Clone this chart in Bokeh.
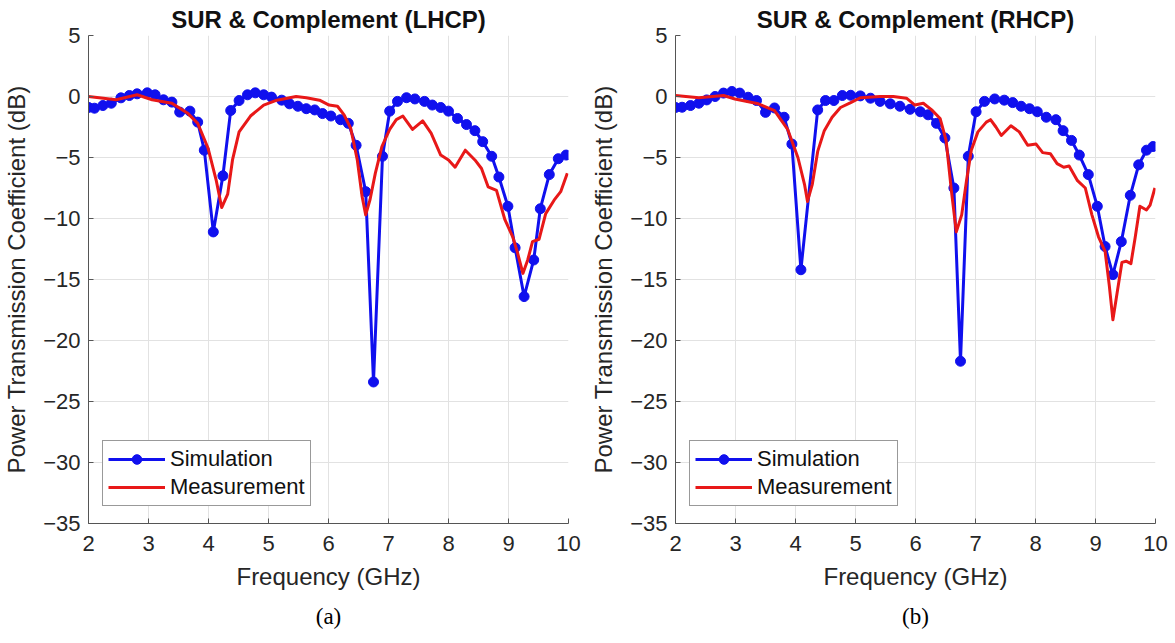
from bokeh.plotting import figure
from bokeh.layouts import row
from bokeh.models import Range1d, FixedTicker, Legend, LegendItem, Title
from bokeh.embed import file_html
from bokeh.resources import INLINE

# ---------------- data ----------------
x_ticks = [2, 3, 4, 5, 6, 7, 8, 9, 10]
y_ticks = [-35, -30, -25, -20, -15, -10, -5, 0, 5]
titles = ["SUR & Complement (LHCP)", "SUR & Complement (RHCP)"]
captions = ["(a)", "(b)"]
series_names = ["Simulation", "Measurement"]
x_label = "Frequency (GHz)"
y_label = "Power Transmission Coefficient (dB)"

# (a) LHCP
lhcp_sim_f = [2.0, 2.1, 2.24, 2.38, 2.54, 2.68, 2.81, 2.98, 3.11, 3.25, 3.39, 3.52, 3.69, 3.82,
              3.93, 4.08, 4.24, 4.37, 4.51, 4.65, 4.78, 4.92, 5.05, 5.22, 5.35, 5.49, 5.63, 5.77,
              5.90, 6.04, 6.2, 6.33, 6.46, 6.62, 6.75, 6.9, 7.02, 7.15, 7.3, 7.44, 7.6, 7.73,
              7.87, 8.0, 8.15, 8.3, 8.44, 8.57, 8.72, 8.84, 8.99, 9.11, 9.26, 9.42, 9.53, 9.68,
              9.83, 9.96]
lhcp_sim_db = [-0.9, -0.96, -0.74, -0.55, -0.11, 0.08, 0.22, 0.3, 0.14, -0.27, -0.46, -1.28, -1.2, -2.1,
               -4.4, -11.1, -6.5, -1.15, -0.33, 0.14, 0.3, 0.14, -0.05, -0.3, -0.6, -0.8, -1.0, -1.1,
               -1.4, -1.6, -1.9, -2.2, -4.0, -7.8, -23.4, -4.9, -1.2, -0.4, -0.1, -0.2, -0.4, -0.7,
               -0.9, -1.2, -1.8, -2.3, -2.8, -3.7, -4.9, -6.6, -9.0, -12.4, -16.4, -13.4, -9.2, -6.4,
               -5.1, -4.8]
lhcp_meas_f = [2.0, 2.46, 2.81, 3.06, 3.39, 3.66, 3.82, 3.99, 4.13, 4.22, 4.32, 4.4, 4.51, 4.7,
               4.92, 5.14, 5.46, 5.63, 5.85, 6.01, 6.15, 6.26, 6.37, 6.48, 6.56, 6.62, 6.69, 6.78,
               6.89, 7.02, 7.13, 7.24, 7.4, 7.57, 7.71, 7.87, 8.0, 8.11, 8.28, 8.44, 8.55, 8.66,
               8.8, 8.94, 9.07, 9.15, 9.24, 9.32, 9.4, 9.51, 9.62, 9.76, 9.87, 9.98]
lhcp_meas_db = [0.0, -0.27, 0.14, -0.27, -0.55, -1.4, -2.2, -4.2, -6.9, -9.1, -8.0, -5.2, -2.9, -1.6,
                -0.7, -0.3, 0.0, -0.1, -0.3, -0.7, -0.8, -1.5, -2.6, -5.2, -8.2, -9.7, -8.5, -6.3,
                -4.1, -2.7, -1.9, -1.6, -2.7, -2.0, -3.0, -4.8, -5.2, -5.8, -4.4, -5.2, -5.9, -7.4,
                -7.7, -10.1, -11.5, -12.8, -14.5, -13.4, -11.9, -11.7, -9.6, -8.5, -7.8, -6.3]

# (b) RHCP
rhcp_sim_f = [2.0, 2.11, 2.25, 2.39, 2.52, 2.66, 2.80, 2.94, 3.07, 3.21, 3.35, 3.5, 3.65, 3.81,
              3.94, 4.09, 4.37, 4.5, 4.64, 4.78, 4.92, 5.08, 5.25, 5.41, 5.58, 5.74, 5.91, 6.08,
              6.21, 6.35, 6.49, 6.64, 6.75, 6.88, 7.01, 7.15, 7.32, 7.48, 7.62, 7.76, 7.9, 8.03,
              8.18, 8.34, 8.46, 8.6, 8.73, 8.88, 9.03, 9.16, 9.29, 9.43, 9.58, 9.72, 9.85, 9.96]
rhcp_sim_db = [-0.9, -0.88, -0.74, -0.55, -0.28, 0.0, 0.28, 0.41, 0.28, -0.06, -0.33, -1.3, -0.94, -1.7,
               -3.9, -14.2, -1.1, -0.33, -0.33, 0.08, 0.1, 0.05, -0.14, -0.4, -0.6, -0.8, -1.05, -1.25,
               -1.5, -2.2, -3.4, -7.5, -21.7, -4.9, -1.25, -0.4, -0.2, -0.3, -0.5, -0.8, -1.0, -1.25,
               -1.7, -1.9, -2.8, -3.6, -4.8, -6.4, -9.0, -12.3, -14.6, -11.9, -8.1, -5.6, -4.4, -4.1]
rhcp_meas_f = [2.0, 2.39, 2.8, 2.99, 3.38, 3.65, 3.87, 4.04, 4.15, 4.2, 4.28, 4.37, 4.48, 4.61,
               4.75, 4.92, 5.08, 5.41, 5.63, 5.85, 5.99, 6.13, 6.27, 6.41, 6.51, 6.6, 6.68, 6.77,
               6.85, 6.93, 7.04, 7.18, 7.25, 7.34, 7.43, 7.59, 7.73, 7.87, 8.01, 8.12, 8.25, 8.36,
               8.47, 8.56, 8.7, 8.83, 8.94, 9.05, 9.16, 9.23, 9.29, 9.36, 9.44, 9.51, 9.59, 9.66,
               9.74, 9.85, 9.91, 9.99]
rhcp_meas_db = [0.08, -0.1, 0.08, -0.2, -0.6, -1.15, -2.7, -5.0, -7.2, -8.6, -7.2, -4.5, -2.8, -1.7,
                -0.9, -0.5, -0.1, 0.0, 0.0, -0.14, -0.7, -0.55, -1.1, -1.8, -3.6, -7.8, -11.1, -9.7,
                -6.9, -4.4, -2.9, -2.1, -1.9, -2.5, -3.2, -2.4, -2.9, -4.0, -3.9, -4.6, -4.7, -5.5,
                -5.8, -5.7, -6.9, -7.5, -9.7, -11.5, -12.7, -15.5, -18.3, -16.1, -13.6, -13.5, -13.7, -11.6,
                -9.0, -9.3, -8.9, -7.5]

BLUE = "#1010ee"
RED = "#e81818"
FONT = "Liberation Sans"


def make_panel(title, caption, sim_f, sim_db, meas_f, meas_db, width, b_left, b_right):
    p = figure(width=width, height=643, x_range=Range1d(2, 10), y_range=Range1d(-35, 5),
               output_backend="svg", toolbar_location=None,
               min_border_left=b_left, min_border_right=b_right,
               min_border_top=35, min_border_bottom=120)
    p.background_fill_color = "white"
    p.border_fill_color = "white"
    p.outline_line_color = None

    p.title.text = title
    p.title.align = "center"
    p.title.text_font = FONT
    p.title.text_font_size = "24px"
    p.title.text_font_style = "bold"
    p.title.text_color = "#111111"
    p.title.standoff = 6

    for ax in (p.xaxis[0], p.yaxis[0]):
        ax.major_label_text_font = FONT
        ax.major_label_text_font_size = "22px"
        ax.major_label_text_color = "#262626"
        ax.axis_label_text_font = FONT
        ax.axis_label_text_font_size = "24px"
        ax.axis_label_text_font_style = "normal"
        ax.axis_label_text_color = "#262626"
        ax.axis_line_color = "#555555"
        ax.major_tick_line_color = "#555555"
        ax.major_tick_in = 5
        ax.major_tick_out = 0
        ax.minor_tick_line_color = None
    p.xaxis.ticker = FixedTicker(ticks=x_ticks)
    p.yaxis.ticker = FixedTicker(ticks=y_ticks)
    p.xaxis.axis_label = x_label
    p.yaxis.axis_label = y_label
    p.xaxis.major_label_standoff = 12
    p.xaxis.axis_label_standoff = 9
    p.yaxis.major_label_standoff = 8
    p.yaxis.axis_label_standoff = 10

    p.xgrid.ticker = FixedTicker(ticks=x_ticks)
    p.ygrid.ticker = FixedTicker(ticks=y_ticks)
    p.grid.grid_line_color = "#e2e2e2"
    p.grid.grid_line_width = 1

    sim_line = p.line(sim_f, sim_db, line_color=BLUE, line_width=3, line_join="round")
    sim_pts = p.scatter(sim_f, sim_db, marker="circle", size=10, fill_color=BLUE, line_color=BLUE)
    meas_line = p.line(meas_f, meas_db, line_color=RED, line_width=3, line_join="round")

    legend = Legend(items=[LegendItem(label=series_names[0], renderers=[sim_line, sim_pts]),
                           LegendItem(label=series_names[1], renderers=[meas_line])],
                    location=(14, 17))
    legend.label_text_font = FONT
    legend.label_text_font_size = "22px"
    legend.label_text_color = "#111111"
    legend.glyph_width = 57
    legend.glyph_height = 24
    legend.label_height = 24
    legend.label_standoff = 5
    legend.spacing = 2
    legend.padding = 5
    legend.margin = 0
    legend.border_line_color = "#333333"
    legend.border_line_width = 1
    legend.background_fill_color = "white"
    legend.background_fill_alpha = 1.0
    p.add_layout(legend, "center")

    cap = Title(text=caption, align="center", text_font="Liberation Serif",
                text_font_size="23px", text_font_style="normal", text_color="#000000",
                standoff=18)
    p.add_layout(cap, "below")
    return p


p1 = make_panel(titles[0], captions[0], lhcp_sim_f, lhcp_sim_db, lhcp_meas_f, lhcp_meas_db, 587, 83, 19)
p2 = make_panel(titles[1], captions[1], rhcp_sim_f, rhcp_sim_db, rhcp_meas_f, rhcp_meas_db, 588, 85, 20)

layout = row(p1, p2)
open("out.html", "w").write(file_html(layout, INLINE))
